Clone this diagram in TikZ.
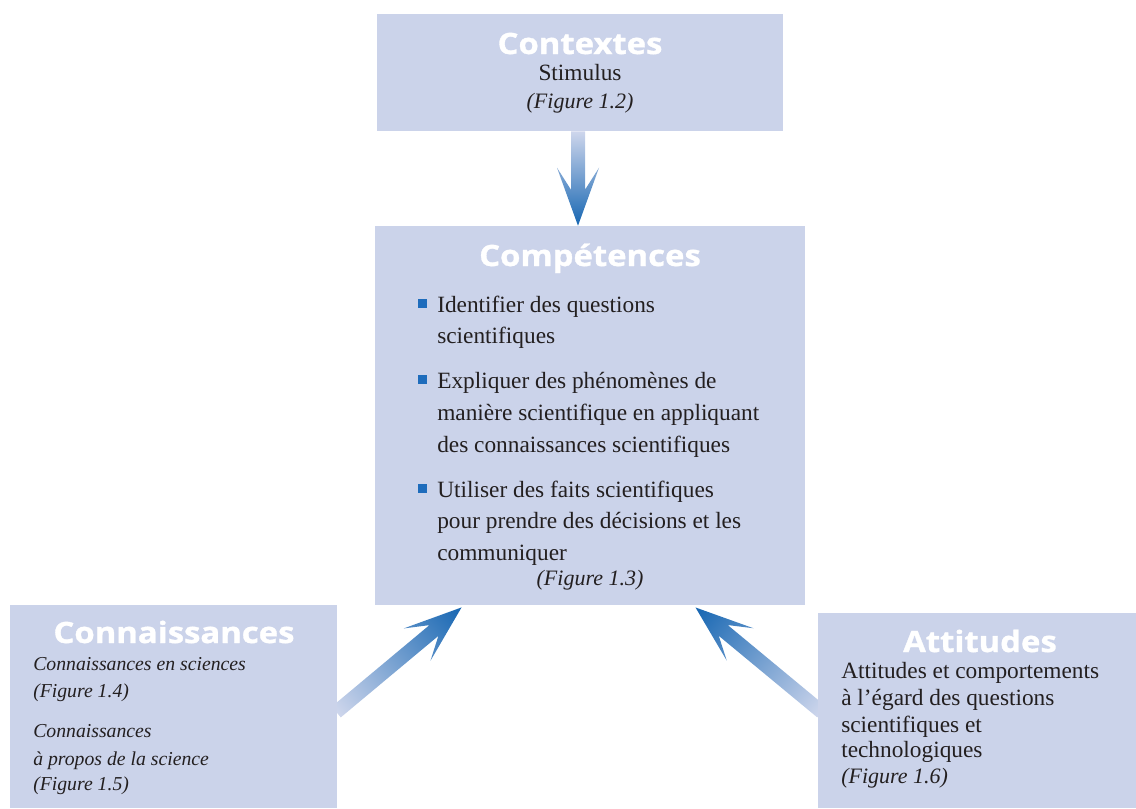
\documentclass[tikz,border=0pt]{standalone}
\usepackage{fontspec}
\setmainfont{Liberation Serif}
\newfontfamily\titlefont[FakeStretch=1.12, BoldFeatures={FakeBold=1.2}]{Open Sans}
\usetikzlibrary{calc}
\definecolor{boxfill}{RGB}{203,211,234}
\definecolor{arrdark}{RGB}{22,102,178}
\definecolor{arrlight}{RGB}{206,214,236}
\definecolor{bulletblue}{RGB}{30,108,188}
\definecolor{txt}{RGB}{35,31,32}
\pgfdeclarelayer{bg}
\pgfsetlayers{bg,main}
\tikzset{
 box/.style={fill=boxfill, draw=none, inner sep=0pt, rectangle},
 ttl/.style={text=white, font=\titlefont\bfseries\fontsize{22}{26}\selectfont, anchor=base, inner sep=0pt},
 body/.style={text=txt, font=\fontsize{17.5}{20}\selectfont, anchor=base west, inner sep=0pt},
 bodyc/.style={body, anchor=base},
 figit/.style={text=txt, font=\itshape\fontsize{16.5}{19}\selectfont, inner sep=0pt},
 smallit/.style={text=txt, font=\itshape\fontsize{14.8}{18}\selectfont, anchor=base west, inner sep=0pt},
 sq/.style={fill=bulletblue, minimum size=6.3pt, inner sep=0pt, rectangle},
}
\newcommand\gradarrow[2]{%
  \path let \p1=(#1), \p2=(#2) in
    \pgfextra{%
      \pgfmathsetmacro\gaA{atan2(\y2-\y1,\x2-\x1)}%
      \pgfmathsetmacro\gaL{veclen(\x2-\x1,\y2-\y1)}%
      \xdef\gaang{\gaA}\xdef\galen{\gaL}\xdef\gax{\x1}\xdef\gay{\y1}%
    };
  \begin{scope}[transform canvas={shift={(\gax,\gay)},rotate=\gaang}, x=1pt, y=1pt]
    \shade[left color=arrlight, right color=arrdark]
      (0,-5.25) -- ({\galen-27},-5.25) -- ({\galen-43.5},-15.75) -- (\galen,0)
      -- ({\galen-43.5},15.75) -- ({\galen-27},5.25) -- (0,5.25) -- cycle;
  \end{scope}
}
\begin{document}
\begin{tikzpicture}[x=0.75pt,y=-0.75pt]
\useasboundingbox (0,0) rectangle (1136,808);
% boxes
\node[box, minimum width=304.5pt, minimum height=87.75pt] (ctx) at (580,72.5) {};
\node[box, minimum width=322.5pt, minimum height=284.25pt] (comp) at (590,415.5) {};
\node[box, minimum width=245.25pt, minimum height=152.25pt] (conn) at (173.5,706.5) {};
\node[box, minimum width=238.5pt, minimum height=146.25pt] (att) at (977,710.5) {};
% arrow end points
\coordinate (a1s) at ($(ctx.south)+(-2,0)$);
\coordinate (a1e) at ($(comp.north)+(-12,0)$);
\coordinate (a2s) at ($(conn.east)+(-1,5.5)$);
\coordinate (a2e) at ($(comp.south west)+(87,2)$);
\coordinate (a3s) at ($(att.west)+(4,1.5)$);
\coordinate (a3e) at ($(comp.south east)+(-110,2)$);
\begin{pgfonlayer}{bg}
\gradarrow{a1s}{a1e}
\gradarrow{a2s}{a2e}
\gradarrow{a3s}{a3e}
\end{pgfonlayer}
% Contextes
\node[ttl] (t1) at (580,54) {Contextes};
\node[bodyc] (c1) at (580,80) {Stimulus};
\node[figit, anchor=base] (c2) at (580,108) {(Figure 1.2)};
% Competences
\node[ttl] (t2) at (590,266) {Compétences};
\node[sq] (b1) at (422.5,303.5) {};
\node[sq] (b2) at (422.5,379.5) {};
\node[sq] (b3) at (422.5,488.5) {};
\node[body] (m1) at (437,312) {Identifier des questions};
\node[body] (m2) at (437,343) {scientifiques};
\node[body] (m3) at (437,388) {Expliquer des phénomènes de};
\node[body] (m4) at (437,420) {manière scientifique en appliquant};
\node[body] (m5) at (437,452) {des connaissances scientifiques};
\node[body] (m6) at (437,497) {Utiliser des faits scientifiques};
\node[body] (m7) at (437,528) {pour prendre des décisions et les};
\node[body] (m8) at (437,560) {communiquer};
\node[figit, anchor=base] (m9) at (590,585) {(Figure 1.3)};
% Connaissances
\node[ttl] (t3) at (174,643) {Connaissances};
\node[smallit] (k1) at (33,670) {Connaissances en sciences};
\node[smallit] (k2) at (33,697) {(Figure 1.4)};
\node[smallit] (k3) at (33,737) {Connaissances};
\node[smallit] (k4) at (33,765) {à propos de la science};
\node[smallit] (k5) at (33,790) {(Figure 1.5)};
% Attitudes
\node[ttl] (t4) at (980,652) {Attitudes};
\node[body] (r1) at (841,678) {Attitudes et comportements};
\node[body] (r2) at (841,705) {à l’égard des questions};
\node[body] (r3) at (841,732) {scientifiques et};
\node[body] (r4) at (841,757) {technologiques};
\node[figit, anchor=base west] (r5) at (841,783) {(Figure 1.6)};
\end{tikzpicture}
\end{document}
